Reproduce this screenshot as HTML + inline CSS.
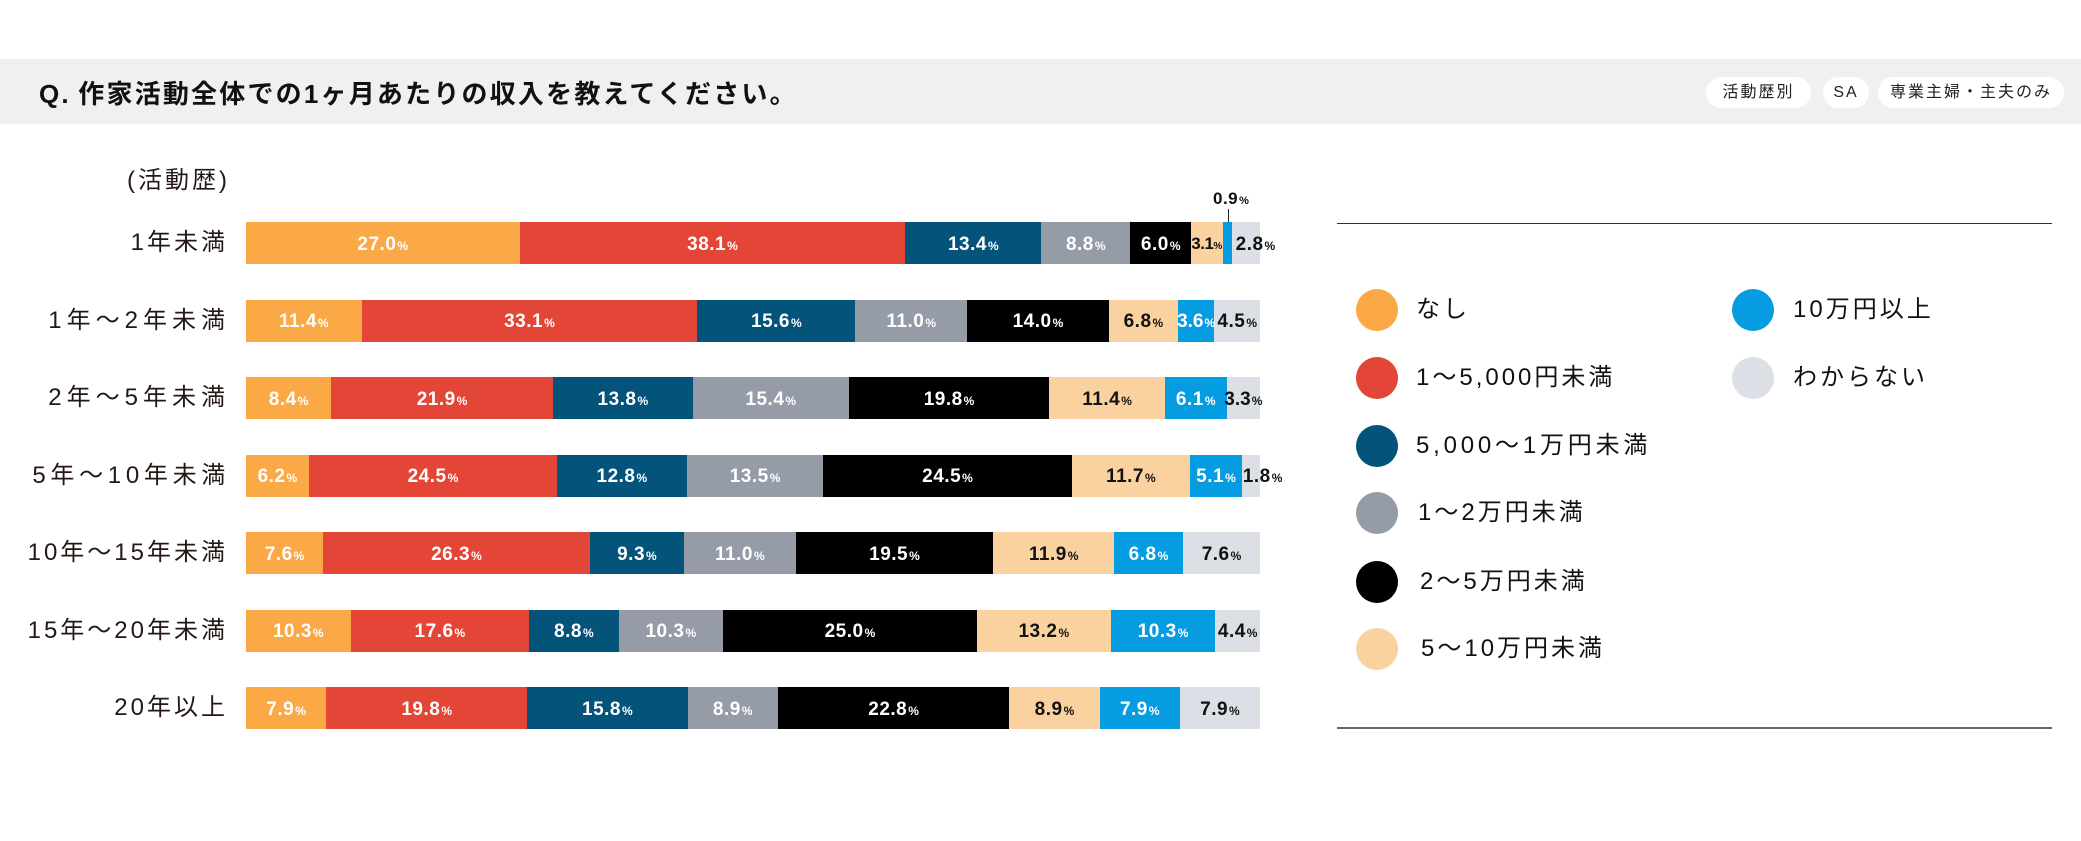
<!DOCTYPE html>
<html><head><meta charset="utf-8">
<style>
*{margin:0;padding:0;box-sizing:border-box}
body{width:2081px;height:841px;background:#fff;position:relative;overflow:hidden;font-family:"Liberation Sans","Noto Sans CJK JP",sans-serif;color:#231815}
.band{position:absolute;left:0;top:59px;width:2081px;height:65px;background:#eff0f2}
.title{position:absolute;left:39px;top:74px;height:40px;line-height:40px;font-size:26px;font-weight:bold;letter-spacing:2.2px;color:#111;white-space:nowrap}
.pill{position:absolute;top:77px;height:31px;line-height:31px;border-radius:16px;background:#fff;font-size:16px;letter-spacing:2px;text-align:center;color:#222;white-space:nowrap}
.rl{position:absolute;right:1853px;height:42px;line-height:42px;font-size:24px;letter-spacing:3px;white-space:nowrap;text-align:right;color:#231815}
.bar{position:absolute;left:246px;width:1014px;height:42px;display:flex}
.s{height:42px;display:flex;align-items:center;justify-content:center;white-space:nowrap;flex-basis:0;flex-shrink:0;min-width:0}
.s span.l{position:relative;z-index:2;font-weight:bold;line-height:1;padding-top:2px}
.n{font-size:19px;letter-spacing:0.5px}
.p{font-size:12px;margin-left:1px}
.c1{background:#fba846;color:#fff}
.c2{background:#e34637;color:#fff}
.c3{background:#03537b;color:#fff}
.c4{background:#959ca7;color:#fff}
.c5{background:#000;color:#fff}
.c6{background:#fad2a0;color:#111}
.c7{background:#069ce1;color:#fff}
.c8{background:#dce0e6;color:#111}
.lf{justify-content:flex-start!important}
.lf span.l{left:4px}
.hl{position:absolute;height:1px;background:#333}
.dot{position:absolute;width:42px;height:42px;border-radius:50%}
.lt{position:absolute;font-size:24px;letter-spacing:3px;height:42px;line-height:42px;white-space:nowrap;color:#111}
</style></head><body>
<div class="band"></div>
<div class="title">Q.&thinsp;作家活動全体での1ヶ月あたりの収入を教えてください。</div>
<div class="pill" style="left:1706px;width:105px">活動歴別</div>
<div class="pill" style="left:1823px;width:46px">SA</div>
<div class="pill" style="left:1878px;width:186px">専業主婦・主夫のみ</div>

<div class="rl" style="top:160px;right:1851px;letter-spacing:3px">(活動歴)</div>
<div class="rl" style="top:222px">1年未満</div>
<div class="rl" style="top:299.5px;letter-spacing:5px;right:1851px">1年～2年未満</div>
<div class="rl" style="top:377px;letter-spacing:5px;right:1851px">2年～5年未満</div>
<div class="rl" style="top:454.5px;letter-spacing:4.7px;right:1851px">5年～10年未満</div>
<div class="rl" style="top:532px">10年～15年未満</div>
<div class="rl" style="top:609.5px">15年～20年未満</div>
<div class="rl" style="top:687px">20年以上</div>

<div class="bar" style="top:222px">
<div class="s c1" style="flex-grow:27.0"><span class="l"><span class="n">27.0</span><span class="p">%</span></span></div>
<div class="s c2" style="flex-grow:38.1"><span class="l"><span class="n">38.1</span><span class="p">%</span></span></div>
<div class="s c3" style="flex-grow:13.4"><span class="l"><span class="n">13.4</span><span class="p">%</span></span></div>
<div class="s c4" style="flex-grow:8.8"><span class="l"><span class="n">8.8</span><span class="p">%</span></span></div>
<div class="s c5" style="flex-grow:6.0"><span class="l"><span class="n">6.0</span><span class="p">%</span></span></div>
<div class="s c6" style="flex-grow:3.1"><span class="l"><span class="n" style="letter-spacing:-0.5px;font-size:17px">3.1</span><span class="p" style="font-size:10px;margin-left:0">%</span></span></div>
<div class="s c7" style="flex-grow:0.9"></div>
<div class="s c8 lf" style="flex-grow:2.8"><span class="l"><span class="n">2.8</span><span class="p">%</span></span></div>
</div>
<div style="position:absolute;left:1213px;top:190px;font-weight:bold;white-space:nowrap;color:#111;line-height:1"><span class="n" style="font-size:17px">0.9</span><span class="p" style="font-size:11px">%</span></div>
<div style="position:absolute;left:1227.5px;top:209px;width:1px;height:13px;background:#222"></div>

<div class="bar" style="top:299.5px">
<div class="s c1" style="flex-grow:11.4"><span class="l"><span class="n">11.4</span><span class="p">%</span></span></div>
<div class="s c2" style="flex-grow:33.1"><span class="l"><span class="n">33.1</span><span class="p">%</span></span></div>
<div class="s c3" style="flex-grow:15.6"><span class="l"><span class="n">15.6</span><span class="p">%</span></span></div>
<div class="s c4" style="flex-grow:11.0"><span class="l"><span class="n">11.0</span><span class="p">%</span></span></div>
<div class="s c5" style="flex-grow:14.0"><span class="l"><span class="n">14.0</span><span class="p">%</span></span></div>
<div class="s c6" style="flex-grow:6.8"><span class="l"><span class="n">6.8</span><span class="p">%</span></span></div>
<div class="s c7" style="flex-grow:3.6"><span class="l"><span class="n" style="letter-spacing:0">3.6</span><span class="p">%</span></span></div>
<div class="s c8" style="flex-grow:4.5"><span class="l"><span class="n">4.5</span><span class="p">%</span></span></div>
</div>

<div class="bar" style="top:377px">
<div class="s c1" style="flex-grow:8.4"><span class="l"><span class="n">8.4</span><span class="p">%</span></span></div>
<div class="s c2" style="flex-grow:21.9"><span class="l"><span class="n">21.9</span><span class="p">%</span></span></div>
<div class="s c3" style="flex-grow:13.8"><span class="l"><span class="n">13.8</span><span class="p">%</span></span></div>
<div class="s c4" style="flex-grow:15.4"><span class="l"><span class="n">15.4</span><span class="p">%</span></span></div>
<div class="s c5" style="flex-grow:19.8"><span class="l"><span class="n">19.8</span><span class="p">%</span></span></div>
<div class="s c6" style="flex-grow:11.4"><span class="l"><span class="n">11.4</span><span class="p">%</span></span></div>
<div class="s c7" style="flex-grow:6.1"><span class="l"><span class="n">6.1</span><span class="p">%</span></span></div>
<div class="s c8" style="flex-grow:3.3"><span class="l"><span class="n" style="letter-spacing:0">3.3</span><span class="p">%</span></span></div>
</div>

<div class="bar" style="top:454.5px">
<div class="s c1" style="flex-grow:6.2"><span class="l"><span class="n">6.2</span><span class="p">%</span></span></div>
<div class="s c2" style="flex-grow:24.5"><span class="l"><span class="n">24.5</span><span class="p">%</span></span></div>
<div class="s c3" style="flex-grow:12.8"><span class="l"><span class="n">12.8</span><span class="p">%</span></span></div>
<div class="s c4" style="flex-grow:13.5"><span class="l"><span class="n">13.5</span><span class="p">%</span></span></div>
<div class="s c5" style="flex-grow:24.5"><span class="l"><span class="n">24.5</span><span class="p">%</span></span></div>
<div class="s c6" style="flex-grow:11.7"><span class="l"><span class="n">11.7</span><span class="p">%</span></span></div>
<div class="s c7" style="flex-grow:5.1"><span class="l"><span class="n">5.1</span><span class="p">%</span></span></div>
<div class="s c8 lf" style="flex-grow:1.8"><span class="l" style="left:1px"><span class="n">1.8</span><span class="p">%</span></span></div>
</div>

<div class="bar" style="top:532px">
<div class="s c1" style="flex-grow:7.6"><span class="l"><span class="n">7.6</span><span class="p">%</span></span></div>
<div class="s c2" style="flex-grow:26.3"><span class="l"><span class="n">26.3</span><span class="p">%</span></span></div>
<div class="s c3" style="flex-grow:9.3"><span class="l"><span class="n">9.3</span><span class="p">%</span></span></div>
<div class="s c4" style="flex-grow:11.0"><span class="l"><span class="n">11.0</span><span class="p">%</span></span></div>
<div class="s c5" style="flex-grow:19.5"><span class="l"><span class="n">19.5</span><span class="p">%</span></span></div>
<div class="s c6" style="flex-grow:11.9"><span class="l"><span class="n">11.9</span><span class="p">%</span></span></div>
<div class="s c7" style="flex-grow:6.8"><span class="l"><span class="n">6.8</span><span class="p">%</span></span></div>
<div class="s c8" style="flex-grow:7.6"><span class="l"><span class="n">7.6</span><span class="p">%</span></span></div>
</div>

<div class="bar" style="top:609.5px">
<div class="s c1" style="flex-grow:10.3"><span class="l"><span class="n">10.3</span><span class="p">%</span></span></div>
<div class="s c2" style="flex-grow:17.6"><span class="l"><span class="n">17.6</span><span class="p">%</span></span></div>
<div class="s c3" style="flex-grow:8.8"><span class="l"><span class="n">8.8</span><span class="p">%</span></span></div>
<div class="s c4" style="flex-grow:10.3"><span class="l"><span class="n">10.3</span><span class="p">%</span></span></div>
<div class="s c5" style="flex-grow:25.0"><span class="l"><span class="n">25.0</span><span class="p">%</span></span></div>
<div class="s c6" style="flex-grow:13.2"><span class="l"><span class="n">13.2</span><span class="p">%</span></span></div>
<div class="s c7" style="flex-grow:10.3"><span class="l"><span class="n">10.3</span><span class="p">%</span></span></div>
<div class="s c8" style="flex-grow:4.4"><span class="l"><span class="n">4.4</span><span class="p">%</span></span></div>
</div>

<div class="bar" style="top:687px">
<div class="s c1" style="flex-grow:7.9"><span class="l"><span class="n">7.9</span><span class="p">%</span></span></div>
<div class="s c2" style="flex-grow:19.8"><span class="l"><span class="n">19.8</span><span class="p">%</span></span></div>
<div class="s c3" style="flex-grow:15.8"><span class="l"><span class="n">15.8</span><span class="p">%</span></span></div>
<div class="s c4" style="flex-grow:8.9"><span class="l"><span class="n">8.9</span><span class="p">%</span></span></div>
<div class="s c5" style="flex-grow:22.8"><span class="l"><span class="n">22.8</span><span class="p">%</span></span></div>
<div class="s c6" style="flex-grow:8.9"><span class="l"><span class="n">8.9</span><span class="p">%</span></span></div>
<div class="s c7" style="flex-grow:7.9"><span class="l"><span class="n">7.9</span><span class="p">%</span></span></div>
<div class="s c8" style="flex-grow:7.9"><span class="l"><span class="n">7.9</span><span class="p">%</span></span></div>
</div>

<div class="hl" style="left:1337px;top:223px;width:715px;background:#2e2e2e"></div>
<div class="hl" style="left:1337px;top:727px;width:715px;height:2px;background:#666"></div>

<div class="dot" style="left:1356px;top:289px;background:#fba846"></div>
<div class="lt" style="left:1416px;top:289px">なし</div>
<div class="dot" style="left:1356px;top:357px;background:#e34637"></div>
<div class="lt" style="left:1416px;top:357px">1～5,000円未満</div>
<div class="dot" style="left:1356px;top:425px;background:#03537b"></div>
<div class="lt" style="left:1416px;top:425px;letter-spacing:3.8px">5,000～1万円未満</div>
<div class="dot" style="left:1356px;top:492px;background:#959ca7"></div>
<div class="lt" style="left:1418px;top:492px">1～2万円未満</div>
<div class="dot" style="left:1356px;top:561px;background:#000"></div>
<div class="lt" style="left:1420px;top:561px">2～5万円未満</div>
<div class="dot" style="left:1356px;top:628px;background:#fad2a0"></div>
<div class="lt" style="left:1421px;top:628px">5～10万円未満</div>

<div class="dot" style="left:1732px;top:289px;background:#069ce1"></div>
<div class="lt" style="left:1793px;top:289px">10万円以上</div>
<div class="dot" style="left:1732px;top:357px;background:#dce0e6"></div>
<div class="lt" style="left:1793px;top:357px">わからない</div>
</body></html>
